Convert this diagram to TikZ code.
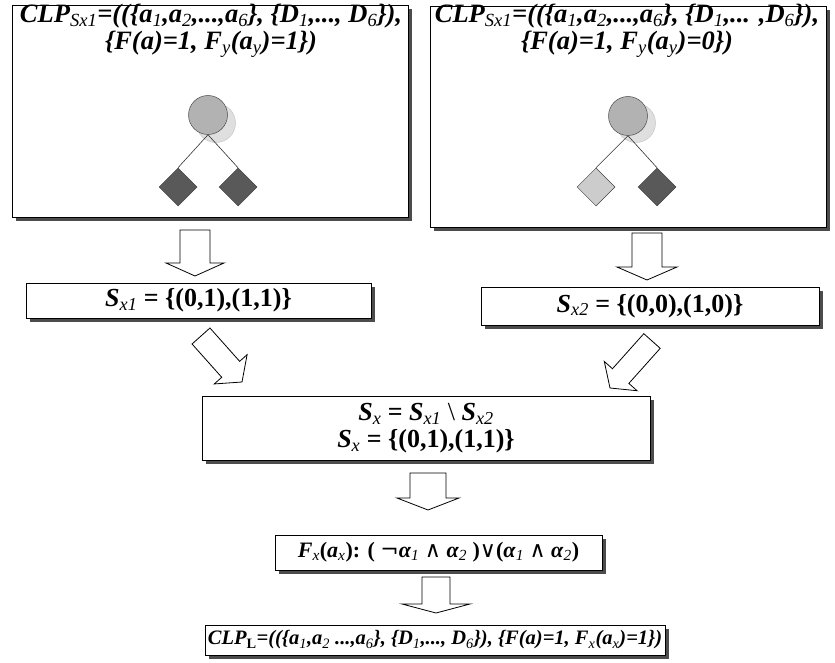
\documentclass[tikz,border=0pt]{standalone}
\usepackage{fontspec}
\setmainfont{Liberation Serif}
\newfontfamily\symf{DejaVu Serif}
\usetikzlibrary{calc,shadows,shapes.geometric}
\newcommand\sbs[1]{\textsubscript{\mdseries\itshape #1}}
\newcommand\sbu[1]{\textsubscript{\bfseries\upshape #1}}
\newcommand\blockarrow[5]{%
  \coordinate (ba-n) at ($(#2)!#5!(#1)$);
  \draw[blockarr] ($(#1)!#3!90:(#2)$) -- ($(ba-n)!#3!-90:(#1)$) -- ($(ba-n)!#4!-90:(#1)$) -- (#2)
    -- ($(ba-n)!#4!90:(#1)$) -- ($(ba-n)!#3!90:(#1)$) -- ($(#1)!#3!-90:(#2)$) -- cycle;}
\tikzset{
  sbox/.style={draw=black, line width=0.8pt, fill=white, inner sep=0pt,
    drop shadow={shadow xshift=4pt, shadow yshift=-4pt, fill=black!70, opacity=1}},
  blockarr/.style={draw=black, line width=0.8pt, fill=white, line join=miter},
  toptxt/.style={font=\fontsize{26.5}{27}\selectfont\bfseries\itshape, align=center, inner sep=0pt},
  settxt/.style={font=\fontsize{26}{27}\selectfont\bfseries, align=center, inner sep=0pt},
  fxtxt/.style={font=\fontsize{22}{27}\selectfont\bfseries, align=center, inner sep=0pt},
  bottxt/.style={font=\fontsize{20.5}{27}\selectfont\bfseries, align=center, inner sep=0pt},
  circ/.style={circle, minimum size=39pt, inner sep=0pt, draw=black!70, line width=0.5pt},
  circsh/.style={circle, minimum size=39pt, inner sep=0pt, fill=gray!25, draw=gray!45, line width=0.5pt},
  dia/.style={diamond, aspect=1, minimum width=38pt, minimum height=38pt, inner sep=0pt, draw=black!75, line width=0.5pt},
  edge/.style={draw=black!80, line width=0.6pt}
}
\begin{document}
\begin{tikzpicture}[x=1pt,y=1pt]
\useasboundingbox (0,0) rectangle (835,-663);
\fill[white] (0,0) rectangle (835,-663);

% boxes
\node[sbox, minimum width=396pt, minimum height=212pt] (box1) at (210,-111) {};
\node[sbox, minimum width=396pt, minimum height=221pt] (box2) at (628,-116.5) {};
\node[sbox, minimum width=345pt, minimum height=35pt] (sx1) at (198.5,-300.5) {};
\node[sbox, minimum width=338pt, minimum height=38pt] (sx2) at (650,-306) {};
\node[sbox, minimum width=448pt, minimum height=64pt] (sx) at (426,-428) {};
\node[sbox, minimum width=327pt, minimum height=35pt] (fx) at (438.5,-552.5) {};
\node[sbox, minimum width=460pt, minimum height=30pt] (clpl) at (435,-640) {};

% texts
\node[toptxt] (t1) at (211,-31) {CLP\sbs{Sx1}=((\{a\sbs{1},a\sbs{2},...,a\sbs{6}\}, \{D\sbs{1},..., D\sbs{6}\}),\\ \{F(a)=1, F\sbs{y}(a\sbs{y})=1\})};
\node[toptxt] (t2) at (627,-31) {CLP\sbs{Sx1}=((\{a\sbs{1},a\sbs{2},...,a\sbs{6}\}, \{D\sbs{1},... ,D\sbs{6}\}),\\ \{F(a)=1, F\sbs{y}(a\sbs{y})=0\})};
\node[settxt] (t3) at (sx1) {\textit{S}\sbs{x1} = \{(0,1),(1,1)\}};
\node[settxt] (t4) at (sx2) {\textit{S}\sbs{x2} = \{(0,0),(1,0)\}};
\node[settxt] (t5) at (sx) {\textit{S}\sbs{x} = \textit{S}\sbs{x1} {\mdseries\textbackslash} \textit{S}\sbs{x2}\\ \textit{S}\sbs{x} = \{(0,1),(1,1)\}};
\node[fxtxt] (t6) at (fx) {\textit{F}\sbs{x}(\textit{a}\sbs{x}): ( {\symf\mdseries ¬}\textit{α}\sbs{1} {\symf\mdseries ∧} \textit{α}\sbs{2} ){\symf\mdseries ∨}(\textit{α}\sbs{1} {\symf\mdseries ∧} \textit{α}\sbs{2})};
\node[bottxt] (t7) at (clpl) {\itshape CLP\sbu{L}=((\{a\sbs{1},a\sbs{2} ...,a\sbs{6}\}, \{D\sbs{1},..., D\sbs{6}\}), \{F(a)=1, F\sbs{x}(a\sbs{x})=1\})};

% tree 1
\node[circsh] (c1s) at (216,-123) {};
\node[circ, fill=gray!60] (c1) at (208,-115) {};
\node[dia, fill=black!65] (d1l) at (178,-187) {};
\node[dia, fill=black!65] (d1r) at (238,-187) {};
\draw[edge] (c1.south) -- (d1l.north);
\draw[edge] (c1.south) -- (d1r.north);

% tree 2
\node[circsh] (c2s) at (636,-123) {};
\node[circ, fill=gray!60] (c2) at (628,-116) {};
\node[dia, fill=gray!40] (d2l) at (596,-187) {};
\node[dia, fill=black!65] (d2r) at (657,-187) {};
\draw[edge] (c2.south) -- (d2l.north);
\draw[edge] (c2.south) -- (d2r.north);

% arrows
\coordinate (a1s) at (195,-230); \coordinate (a1e) at (195,-276);
\coordinate (a2s) at (647,-233); \coordinate (a2e) at (647,-280);
\coordinate (a3s) at (201,-336); \coordinate (a3e) at (242,-382);
\coordinate (a4s) at (652,-341); \coordinate (a4e) at (610,-388);
\coordinate (a5s) at (428,-473); \coordinate (a5e) at (428,-510);
\coordinate (a6s) at (436,-577); \coordinate (a6e) at (436,-613);
\blockarrow{a1s}{a1e}{15pt}{29pt}{13pt}
\blockarrow{a2s}{a2e}{15pt}{30pt}{13pt}
\blockarrow{a3s}{a3e}{12pt}{22pt}{17pt}
\blockarrow{a4s}{a4e}{11pt}{22pt}{16pt}
\blockarrow{a5s}{a5e}{18pt}{31pt}{12pt}
\blockarrow{a6s}{a6e}{14pt}{34pt}{9pt}
\end{tikzpicture}
\end{document}
